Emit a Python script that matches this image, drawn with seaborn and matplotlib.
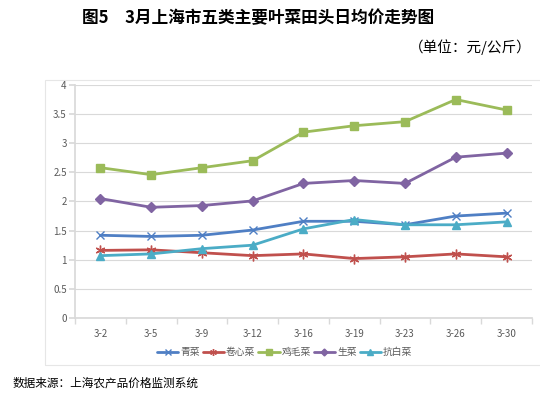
import matplotlib
matplotlib.use('Agg')
import matplotlib.pyplot as plt
from matplotlib.patches import Rectangle
import seaborn as sns
import pandas as pd

# data (元/公斤)
dates = ['3-2', '3-5', '3-9', '3-12', '3-16', '3-19', '3-23', '3-26', '3-30']
qingcai = [1.42, 1.40, 1.42, 1.51, 1.66, 1.66, 1.60, 1.75, 1.80]
juanxincai = [1.16, 1.17, 1.12, 1.07, 1.10, 1.02, 1.05, 1.10, 1.05]
jimaocai = [2.58, 2.46, 2.58, 2.70, 3.19, 3.30, 3.37, 3.75, 3.57]
shengcai = [2.05, 1.90, 1.93, 2.01, 2.31, 2.36, 2.31, 2.76, 2.83]
kangbaicai = [1.07, 1.10, 1.19, 1.25, 1.53, 1.69, 1.60, 1.60, 1.65]

series_names = ['青菜', '卷心菜', '鸡毛菜', '生菜', '抗白菜']
series_values = [qingcai, juanxincai, jimaocai, shengcai, kangbaicai]
colors = ['#4F7FC4', '#C0504D', '#9BBB59', '#8064A2', '#4BACC6']
markers = ['x', (6, 2, 0), 's', 'D', '^']
marker_sizes = [6, 7, 6, 5, 6]

rows = []
for name, vals in zip(series_names, series_values):
    for i, (d, v) in enumerate(zip(dates, vals)):
        rows.append({'date': d, 'pos': i, 'price': v, 'veg': name})
df = pd.DataFrame(rows)

sns.set_theme(style='white')
plt.rcParams['font.family'] = ['Noto Sans CJK SC', 'DejaVu Sans']

fig = plt.figure(figsize=(5.4, 3.97), dpi=100)
ax = fig.add_axes([0.139, 0.199, 0.846, 0.587])

grey = '#595959'
light = '#D9D9D9'

for name, col, mk, ms in zip(series_names, colors, markers, marker_sizes):
    sub = df[df['veg'] == name]
    sns.lineplot(data=sub, x='pos', y='price', ax=ax, color=col, linewidth=2,
                 marker=mk, markersize=ms, markeredgecolor=col,
                 markeredgewidth=1.0, label=name, legend=False)

ax.set_xlim(-0.5, len(dates) - 0.5)
ax.set_ylim(0, 4)
ax.set_yticks([0, 0.5, 1, 1.5, 2, 2.5, 3, 3.5, 4])
ax.set_yticklabels(['0', '0.5', '1', '1.5', '2', '2.5', '3', '3.5', '4'])
ax.set_xticks(range(len(dates)))
ax.set_xticklabels(dates)
ax.set_xticks([i + 0.5 for i in range(-1, len(dates))], minor=True)
ax.set_xlabel('')
ax.set_ylabel('')

ax.grid(True, axis='y', color=light, linewidth=0.8)
ax.set_axisbelow(True)
for side in ['top', 'right']:
    ax.spines[side].set_visible(False)
ax.spines['left'].set_color(light)
ax.spines['bottom'].set_color(light)
ax.tick_params(axis='y', which='major', length=4, color=light, labelsize=7,
               labelcolor=grey, pad=2, left=True)
ax.tick_params(axis='x', which='major', length=0, labelsize=7,
               labelcolor=grey, pad=8)
ax.tick_params(axis='x', which='minor', length=4, color=light, bottom=True)

# legend
handles = [plt.Line2D([], [], color=c, linewidth=2, marker=m, markersize=s * 0.7,
                      markeredgecolor=c) for c, m, s in zip(colors, markers, marker_sizes)]
fig.legend(handles, series_names, loc='center', bbox_to_anchor=(0.527, 0.113),
           ncol=5, frameon=False, fontsize=7, handlelength=2.2, handletextpad=0.2,
           columnspacing=0.3, labelcolor=grey)

# chart border
fig.patches.append(Rectangle((45 / 540, 1 - 365 / 397), 1.0, (365 - 80) / 397,
                             transform=fig.transFigure, fill=False,
                             edgecolor='#E6E6E6', linewidth=0.8))

fig.text(0.478, 0.955, '图5　3月上海市五类主要叶菜田头日均价走势图',
         ha='center', va='center', fontsize=12, fontweight='bold', color='black')
fig.text(0.985, 0.882, '（单位：元/公斤）', ha='right', va='center',
         fontsize=10.5, color='black')
fig.text(0.024, 0.035, '数据来源：上海农产品价格监测系统', ha='left', va='center',
         fontsize=8.4, color='black')

fig.savefig('out.png', dpi=100, facecolor='white')
plt.close(fig)
